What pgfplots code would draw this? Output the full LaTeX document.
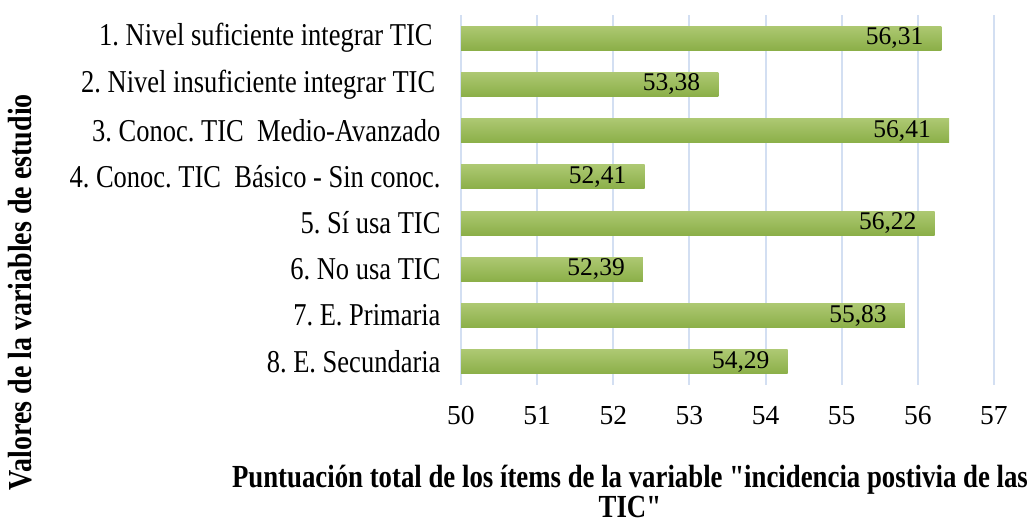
\documentclass[border=0pt]{standalone}
\usepackage{graphicx}
\usepackage{fontspec}
\setmainfont{Liberation Serif}
\newfontfamily\qfont{Liberation Serif}
\usepackage{pgfplots}
\pgfplotsset{compat=1.18}
\definecolor{barTop}{HTML}{ADC872}
\definecolor{barBot}{HTML}{8BAF48}
\definecolor{gridc}{HTML}{D3DFF2}
\frenchspacing
\newcommand\St[1]{\scalebox{1}[1.2]{#1}}
\pgfplotsset{gbar/.style={xbar, bar width=24pt, bar shift=0pt, draw=none, top color=barTop, bottom color=barBot}}
\begin{document}
\begin{tikzpicture}[x=1pt,y=1pt]
\useasboundingbox (0,0) rectangle (1030,523);
\begin{axis}[
  at={(461pt,138pt)}, anchor=south west, scale only axis,
  width=533pt, height=370pt,
  xmin=50, xmax=57, ymin=0.5, ymax=8.5, y dir=reverse,
  xtick={50,51,52,53,54,55,56,57}, ytick={1,2,3,4,5,6,7,8},
  yticklabels={\St{1. Nivel suficiente integrar TIC\hspace*{0.3em}},
    \St{2. Nivel insuficiente integrar TIC\hspace*{0.2em}},
    \St{3. Conoc. TIC\ \ Medio-Avanzado},
    \St{4. Conoc. TIC\ \ Básico - Sin conoc.},
    \St{5. Sí usa TIC}, \St{6. No usa TIC}, \St{7. E. Primaria}, \St{8. E. Secundaria}},
  axis line style={draw=none}, major tick length=0pt,
  xmajorgrids, grid style={gridc, line width=2pt},
  xticklabel style={font=\fontsize{27.5}{30}\selectfont, yshift=-18pt},
  yticklabel style={font=\fontsize{26.5}{30}\selectfont, xshift=-17pt},
  /pgf/number format/assume math mode=true,
  xlabel={\St{\begin{tabular}{@{}c@{}}Puntuación total de los ítems de la variable {\qfont"}incidencia postivia de las\\TIC{\qfont"}\end{tabular}}},
  xlabel style={at={(axis description cs:0.317,-0.298)}, anchor=center, inner sep=0pt,
    font=\fontsize{26.8}{21.7}\selectfont\bfseries},
  ylabel={\St{Valores de la variables de estudio}},
  ylabel style={at={(axis description cs:-0.827,0.251)}, anchor=center, rotate=0,
    font=\fontsize{28}{26}\selectfont\bfseries},
  clip=false,
]
\addplot[gbar] coordinates {(56.31,1)};
\addplot[gbar] coordinates {(53.38,2)};
\addplot[gbar] coordinates {(56.41,3)};
\addplot[gbar] coordinates {(52.41,4)};
\addplot[gbar] coordinates {(56.22,5)};
\addplot[gbar] coordinates {(52.39,6)};
\addplot[gbar] coordinates {(55.83,7)};
\addplot[gbar] coordinates {(54.29,8)};
\addplot[draw=none, mark=none, nodes near coords, point meta=x,
  nodes near coords style={anchor=east, xshift=-18pt, inner sep=0pt,
    font=\fontsize{25.5}{30}\selectfont,
    /pgf/number format/.cd, fixed, fixed zerofill, precision=2, use comma, assume math mode=true}]
  coordinates {(56.31,1) (53.38,2) (56.41,3) (52.41,4) (56.22,5) (52.39,6) (55.83,7) (54.29,8)};
\end{axis}
\end{tikzpicture}
\end{document}
